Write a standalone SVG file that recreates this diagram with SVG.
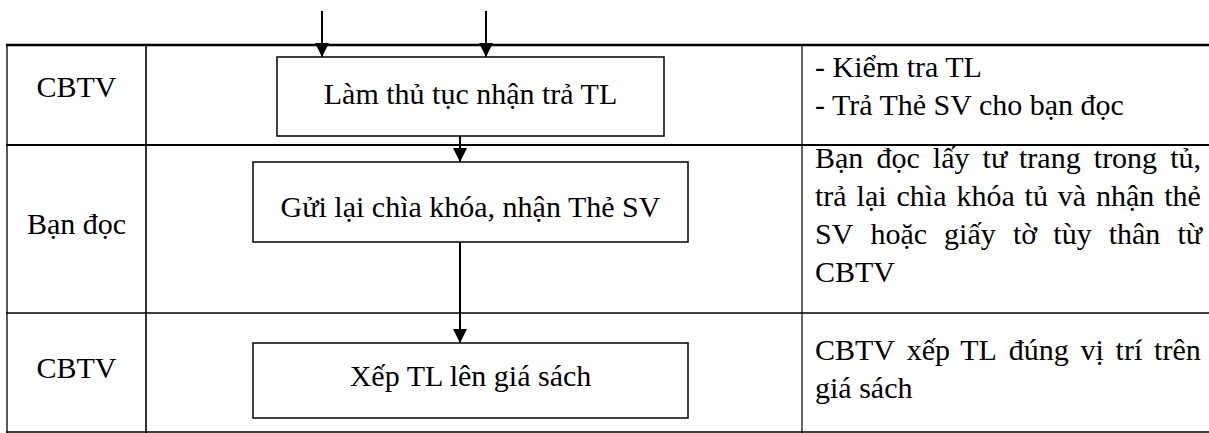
<svg xmlns="http://www.w3.org/2000/svg" width="1209" height="433" viewBox="0 0 1209 433">
  <defs>
    <marker id="arrow" viewBox="0 0 14 14" refX="14" refY="7" markerWidth="14" markerHeight="14" markerUnits="userSpaceOnUse" orient="auto">
      <path d="M0,0 L14,7 L0,14 Z" fill="#000"/>
    </marker>
    <style>
      .t { font-family: 'Liberation Serif', 'DejaVu Serif', serif; font-size: 30px; fill: #000; }
      .mid { text-anchor: middle; }
      .grid { stroke: #000; fill: none; }
      .box { fill: #fff; stroke: #111; stroke-width: 1.6; }
      .flow { stroke: #000; stroke-width: 2; fill: none; marker-end: url(#arrow); }
    </style>
  </defs>
  <rect width="1209" height="433" fill="#fff"/>

  <!-- table grid -->
  <g id="table">
    <line class="grid" x1="6" y1="45" x2="1209" y2="45" stroke-width="2.4"/>
    <line class="grid" x1="6" y1="145" x2="1209" y2="145" stroke-width="2.2"/>
    <line class="grid" x1="6" y1="313" x2="1209" y2="313" stroke-width="1.4"/>
    <line class="grid" x1="6" y1="432" x2="1209" y2="432" stroke-width="1.6"/>
    <line class="grid" x1="7" y1="44" x2="7" y2="433" stroke-width="1.3"/>
    <line class="grid" x1="146" y1="44" x2="146" y2="433" stroke-width="1.6"/>
    <line class="grid" x1="802" y1="44" x2="802" y2="433" stroke-width="1.2"/>
  </g>

  <!-- actor column -->
  <g id="actors" class="t" font-family="Liberation Serif, serif" font-size="30">
    <text class="mid" x="76.5" y="97">CBTV</text>
    <text class="mid" x="76.5" y="234">Bạn đọc</text>
    <text class="mid" x="76.5" y="378">CBTV</text>
  </g>

  <!-- connectors -->
  <g id="connectors">
    <line class="flow" x1="322" y1="11" x2="322" y2="57"/>
    <line class="flow" x1="486" y1="11" x2="486" y2="57"/>
    <line class="flow" x1="460" y1="136" x2="460" y2="162"/>
    <line class="flow" x1="460" y1="242" x2="460" y2="343"/>
  </g>

  <!-- process steps -->
  <g id="step-return" class="t" font-family="Liberation Serif, serif" font-size="30">
    <rect class="box" x="277" y="57" width="387" height="79"/>
    <text class="mid" x="470.5" y="104">Làm thủ tục nhận trả TL</text>
  </g>
  <g id="step-key" class="t" font-family="Liberation Serif, serif" font-size="30">
    <rect class="box" x="253" y="162" width="435" height="80"/>
    <text class="mid" x="470.5" y="217">Gửi lại chìa khóa, nhận Thẻ SV</text>
  </g>
  <g id="step-shelve" class="t" font-family="Liberation Serif, serif" font-size="30">
    <rect class="box" x="253" y="343" width="435" height="75"/>
    <text class="mid" x="470.5" y="386">Xếp TL lên giá sách</text>
  </g>

  <!-- description column (justified lines) -->
  <g id="notes" class="t" font-family="Liberation Serif, serif" font-size="30">
    <text x="815" y="77">- Kiểm tra TL</text>
    <text x="815" y="115">- Trả Thẻ SV cho bạn đọc</text>

    <text y="168"><tspan x="815">Bạn</tspan><tspan x="876.4">đọc</tspan><tspan x="932.8">lấy</tspan><tspan x="982.6">tư</tspan><tspan x="1019">trang</tspan><tspan x="1093.8">trong</tspan><tspan x="1170.2">tủ,</tspan></text>
    <text y="206"><tspan x="815">trả</tspan><tspan x="856.6">lại</tspan><tspan x="896.5">chìa</tspan><tspan x="956.4">khóa</tspan><tspan x="1024.6">tủ</tspan><tspan x="1057.8">và</tspan><tspan x="1096">nhận</tspan><tspan x="1164.2">thẻ</tspan></text>
    <text y="244"><tspan x="815">SV</tspan><tspan x="870.4">hoặc</tspan><tspan x="944.1">giấy</tspan><tspan x="1012.9">tờ</tspan><tspan x="1053.3">tùy</tspan><tspan x="1108.7">thân</tspan><tspan x="1177.5">từ</tspan></text>
    <text x="815" y="282">CBTV</text>

    <text y="360"><tspan x="815">CBTV</tspan><tspan x="906.8">xếp</tspan><tspan x="960.2">TL</tspan><tspan x="1008.7">đúng</tspan><tspan x="1080.5">vị</tspan><tspan x="1115.6">trí</tspan><tspan x="1154.1">trên</tspan></text>
    <text x="815" y="398">giá sách</text>
  </g>
</svg>
